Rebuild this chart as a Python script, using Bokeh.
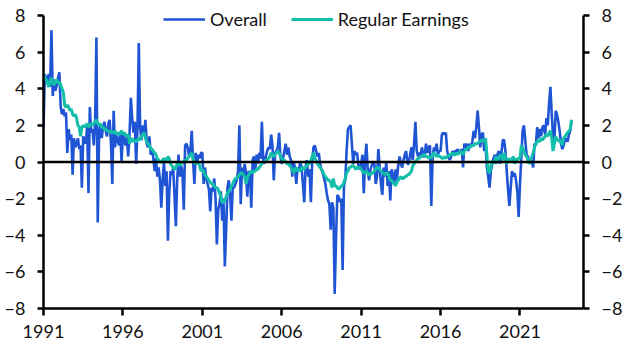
from bokeh.plotting import figure
from bokeh.models import (Range1d, LinearAxis, FixedTicker, NumeralTickFormatter,
                          Span, Legend, LegendItem, ColumnDataSource)
from bokeh.embed import file_html
from bokeh.resources import INLINE

# ---------------- data (monthly, % y/y, Jan 1991 .. Apr 2024) ----------------
start_year = 1991
overall = [
    1.9, 4.8, 4.3, 4.6, 4.8, 4.1, 7.2, 3.6, 4.5, 3.9, 4.2, 4.6,        # 1991
    4.9, 3.0, 2.6, 2.9, 2.5, 2.7, 0.5, 1.8, 1.2, 1.5, -0.7, 1.3,       # 1992
    0.8, 1.0, 1.3, 0.7, 0.9, -1.4, 1.4, 1.2, 1.0, 2.0, -1.7, 3.0,      # 1993
    1.6, 1.8, 0.9, 2.2, 6.8, -3.3, 1.5, 2.1, 1.3, 1.9, 2.2, 1.7,       # 1994
    1.4, 2.1, 2.3, 1.0, -1.2, 2.8, 0.8, 1.5, 1.2, 0.9, 1.6, 0.0,       # 1995
    1.6, 1.2, 0.9, 1.4, 0.3, 1.5, 3.5, 2.4, 1.6, 2.2, -0.1, 1.8,       # 1996
    6.5, 1.9, 1.2, 2.0, 1.5, 2.3, 1.0, 0.8, 1.4, 0.4, 0.7, 0.2,        # 1997
    -0.5, 0.2, -0.8, -0.3, -1.0, -2.5, -1.0, 0.0, -1.3, -0.5, -4.3, -1.7,  # 1998
    -0.5, -0.7, -0.3, -1.9, -3.5, -1.0, 0.4, -0.8, -0.2, -0.6, -2.6, 0.9,  # 1999
    1.0, 0.8, 0.3, 0.6, 1.7, 0.1, -1.2, 0.5, -0.1, 0.4, 0.2, 0.5,      # 2000
    0.5, -1.2, -0.3, -0.9, -1.2, -1.5, -2.7, -1.4, -1.6, -0.9, -2.0, -4.5,  # 2001
    -2.6, -2.3, -1.6, -3.2, -2.0, -5.7, -3.7, -1.4, -1.0, -1.8, -3.2, -1.4,  # 2002
    -1.4, -1.2, -1.0, -0.5, 2.0, -2.3, -0.3, -0.8, -0.1, -0.6, -1.9, -0.5,  # 2003
    -0.6, -2.5, 0.1, 0.3, -0.5, 0.4, -0.1, 0.5, 0.2, 2.2, 0.1, -0.1,   # 2004
    0.3, 0.6, 0.8, 0.7, 1.5, 0.9, -1.0, 0.5, 0.6, 0.8, 1.6, 0.3,       # 2005
    -0.1, 0.2, 0.6, 1.0, 0.4, 0.8, 0.3, 0.1, -0.8, 0.0, -0.3, -1.2,    # 2006
    -0.3, -0.5, 0.0, -0.3, -1.2, -2.2, -0.3, 0.1, -0.8, -0.4, -2.2, 0.0,  # 2007
    0.8, 0.9, 0.6, 0.3, 0.5, -0.1, -0.4, -0.6, -0.9, -1.2, -1.7, -2.1,  # 2008
    -2.3, -3.7, -2.2, -2.5, -7.2, -4.2, -1.8, -1.9, -2.2, -2.0, -5.9, -1.3,  # 2009
    -1.0, 0.6, 1.8, 1.9, 2.0, 1.0, -0.1, 0.6, 0.4, 0.5, -0.3, -0.4,    # 2010
    -0.1, 0.4, -1.7, 0.2, 1.0, -0.5, -1.0, -0.4, -0.2, 0.0, -0.1, -1.2,  # 2011
    -0.8, 0.7, -0.3, -1.2, -1.8, -0.3, -0.8, 0.0, -1.3, -0.5, -2.1, -0.4,  # 2012
    -0.7, -1.2, -0.4, -1.0, -0.2, 0.3, -0.1, -0.3, 0.1, 0.4, 0.6, -0.1,  # 2013
    -0.1, 0.4, 0.8, 0.1, 1.0, 2.2, 0.6, 0.3, 0.5, 0.4, 0.8, 0.3,       # 2014
    0.3, 1.0, 0.5, 0.8, 0.9, -2.4, 0.2, 0.8, 0.6, 1.0, 0.4, 0.6,       # 2015
    0.6, 1.5, 1.6, 1.5, 1.6, 0.6, 0.3, 0.1, 0.3, 0.6, 0.4, 0.6,        # 2016
    0.6, 0.7, 0.5, 0.6, 0.7, -0.3, 1.0, 0.8, 1.0, 0.6, 1.0, 0.8,       # 2017
    1.1, 1.7, 1.3, 1.9, 2.8, 1.9, 0.8, 1.5, 1.6, 0.6, 0.9, -0.3,       # 2018
    -0.8, -1.4, -0.5, -0.1, 0.2, 0.4, -0.1, 0.4, 0.6, -0.1, 0.5, 1.2,  # 2019
    1.2, 0.6, -0.5, -1.5, -2.4, -1.4, -0.5, -0.8, -0.6, -1.0, -1.6, -3.0,  # 2020
    -1.2, 0.2, 1.7, 2.0, 1.2, 0.4, 0.3, -0.1, 0.1, 0.0, -0.3, 1.0,     # 2021
    0.9, 1.9, 1.3, 1.8, 1.4, 1.9, 2.0, 1.5, 2.4, 2.0, 3.2, 4.1,        # 2022
    2.6, 1.4, 1.2, 2.8, 2.6, 2.2, 1.7, 1.0, 0.7, 0.9, 1.2, 1.3,        # 2023
    1.1, 1.5, 1.7, 2.3,                                                # 2024
]
regular = [
    4.8, 4.6, 4.5, 4.3, 4.1, 4.4, 4.6, 4.3, 4.2, 4.4, 4.5, 4.3,        # 1991
    4.4, 4.2, 4.0, 3.8, 3.1, 3.0, 3.1, 3.0, 2.8, 2.9, 2.6, 2.5,        # 1992
    2.6, 2.4, 2.0, 1.9, 1.4, 1.9, 2.0, 1.9, 2.0, 2.1, 1.9, 2.0,        # 1993
    2.1, 2.0, 2.1, 2.2, 2.3, 2.1, 2.0, 2.1, 1.9, 1.9, 1.8, 1.8,        # 1994
    1.7, 1.7, 1.6, 1.7, 1.6, 1.6, 1.7, 1.5, 1.6, 1.5, 1.6, 1.7,        # 1995
    1.5, 1.6, 1.5, 1.4, 1.5, 1.0, 1.2, 1.3, 1.1, 1.2, 1.1, 1.2,        # 1996
    1.3, 1.2, 1.4, 1.5, 1.6, 1.3, 1.1, 1.0, 0.9, 0.7, 0.7, 0.6,        # 1997
    0.5, 0.4, 0.2, 0.1, 0.0, 0.0, 0.1, 0.2, 0.1, 0.1, 0.3, 0.2,        # 1998
    -0.1, -0.2, -0.3, -0.4, -0.3, -0.1, -0.1, -0.2, -0.1, 0.0, 0.0, 0.1,  # 1999
    0.1, 0.2, 0.3, 0.4, 0.5, 0.2, -0.1, 0.0, -0.1, 0.0, -0.2, -0.5,    # 2000
    -0.4, -0.5, -0.7, -0.8, -0.9, -1.0, -1.1, -1.2, -1.2, -1.3, -1.4, -1.4,  # 2001
    -1.5, -1.7, -1.9, -2.2, -2.2, -2.1, -1.9, -1.7, -1.6, -1.5, -1.3, -1.2,  # 2002
    -1.0, -0.9, -0.9, -0.8, -0.7, -0.6, -0.6, -0.7, -0.8, -1.2, -0.9, -0.7,  # 2003
    -0.6, -0.5, -0.6, -0.5, -0.5, -0.4, -0.4, -0.3, -0.2, -0.1, 0.0, 0.0,  # 2004
    0.1, 0.1, 0.2, 0.3, 0.5, 0.4, 0.3, 0.4, 0.5, 0.6, 0.5, 0.3,        # 2005
    0.2, 0.1, 0.1, 0.0, -0.1, -0.1, -0.2, -0.3, -0.4, -0.6, -0.4, -0.3,  # 2006
    -0.5, -0.4, -0.5, -0.3, -0.3, -0.4, -0.3, -0.2, -0.1, -0.1, 0.1, 0.3,  # 2007
    0.5, 0.2, 0.1, -0.1, -0.2, -0.3, -0.4, -0.5, -0.7, -0.8, -0.9, -1.0,  # 2008
    -1.0, -1.1, -1.4, -0.9, -1.3, -1.3, -1.4, -1.5, -1.4, -1.3, -1.3, -1.1,  # 2009
    -0.9, -0.6, -0.5, -0.3, -0.3, -0.2, -0.2, -0.3, -0.4, -0.3, -0.3, -0.3,  # 2010
    -0.4, -0.5, -0.6, -0.6, -0.5, -0.6, -0.7, -0.7, -0.6, -0.6, -0.5, -0.4,  # 2011
    -0.3, -0.3, -0.4, -0.5, -0.6, -0.6, -0.7, -0.6, -0.6, -0.8, -1.0, -1.0,  # 2012
    -1.1, -1.2, -1.3, -1.1, -1.0, -0.9, -0.8, -0.9, -0.9, -0.8, -0.8, -0.7,  # 2013
    -0.7, -0.6, -0.5, -0.2, -0.1, 0.0, 0.1, 0.2, 0.2, 0.3, 0.3, 0.4,   # 2014
    0.4, 0.3, 0.3, 0.2, 0.3, 0.2, 0.4, 0.5, 0.4, 0.3, 0.4, 0.3,        # 2015
    0.3, 0.2, 0.2, 0.3, 0.2, 0.3, 0.3, 0.4, 0.4, 0.5, 0.4, 0.4,        # 2016
    0.5, 0.4, 0.5, 0.6, 0.5, 0.4, 0.6, 0.7, 0.7, 0.8, 0.8, 0.9,        # 2017
    0.9, 0.9, 1.0, 1.0, 1.0, 1.1, 1.1, 1.2, 1.2, 1.1, 1.3, 0.4,        # 2018
    -0.5, -0.6, -0.3, 0.1, -0.1, 0.1, 0.3, 0.0, 0.2, 0.4, 0.3, 0.1,    # 2019
    0.5, 0.2, -0.1, 0.2, 0.1, 0.0, 0.2, 0.3, -0.1, 0.2, 0.1, 0.2,      # 2020
    0.2, 0.9, 0.8, 0.6, 0.4, 0.3, 0.1, -0.1, 0.1, 0.3, 0.5, 0.8,       # 2021
    1.0, 1.1, 1.2, 1.1, 1.3, 1.2, 1.3, 1.4, 1.5, 1.4, 1.6, 1.7,        # 2022
    1.3, 0.6, 1.0, 1.4, 1.2, 1.2, 1.1, 1.2, 0.9, 1.3, 1.4, 1.5,        # 2023
    1.6, 1.7, 1.8, 2.3,                                                # 2024
]
x_ticks = [1991, 1996, 2001, 2006, 2011, 2016, 2021]
y_ticks = [-8, -6, -4, -2, 0, 2, 4, 6, 8]
series_names = ["Overall", "Regular Earnings"]
colors = ["#1f55d4", "#13bfa9"]

# ---------------- figure ----------------
FONT = "Lato"
FS = "18px"
x = [start_year + i / 12 for i in range(len(overall))]
src = ColumnDataSource(dict(x=x, overall=overall, regular=regular))

# frame extends a little above 8 so the legend sits inside it; axes are bounded to [-8, 8]
p = figure(width=629, height=355, output_backend="svg", toolbar_location=None,
           x_range=Range1d(1991, 2025), y_range=Range1d(-8, 8.437),
           min_border_left=43, min_border_right=46, min_border_top=7,
           min_border_bottom=47)
p.outline_line_color = None
p.grid.visible = False
p.background_fill_color = "white"
p.border_fill_color = "white"

r1 = p.line("x", "overall", source=src, line_color=colors[0], line_width=2.6)
r2 = p.line("x", "regular", source=src, line_color=colors[1], line_width=3)

p.add_layout(Span(location=0, dimension="width", line_color="black", line_width=2.5))

def style_axis(ax, ticks):
    ax.ticker = FixedTicker(ticks=ticks)
    ax.axis_line_color = "black"
    ax.axis_line_width = 2.5
    ax.major_tick_line_color = "black"
    ax.major_tick_line_width = 2.5
    ax.major_tick_in = 0
    ax.major_tick_out = 6
    ax.minor_tick_line_color = None
    ax.major_label_text_font = FONT
    ax.major_label_text_font_size = FS
    ax.major_label_text_color = "#111111"

style_axis(p.yaxis[0], y_ticks)
p.yaxis[0].major_label_standoff = 12
p.yaxis[0].bounds = (-8, 8)
right = LinearAxis(y_range_name="default", bounds=(-8, 8))
style_axis(right, y_ticks)
right.major_label_standoff = 12
p.add_layout(right, "right")

style_axis(p.xaxis[0], x_ticks)
p.xaxis[0].major_tick_out = 7
p.xaxis[0].major_label_standoff = 9
p.xaxis[0].formatter = NumeralTickFormatter(format="0")

legend = Legend(items=[LegendItem(label=series_names[0], renderers=[r1]),
                       LegendItem(label=series_names[1], renderers=[r2])],
                orientation="horizontal", location=(120, 278),
                border_line_color=None, background_fill_alpha=0,
                padding=0, margin=0, spacing=24, glyph_width=42,
                glyph_height=16, label_standoff=5,
                label_text_font=FONT, label_text_font_size=FS,
                label_text_color="#111111")
p.add_layout(legend, "center")

open("out.html", "w").write(file_html(p, INLINE))
